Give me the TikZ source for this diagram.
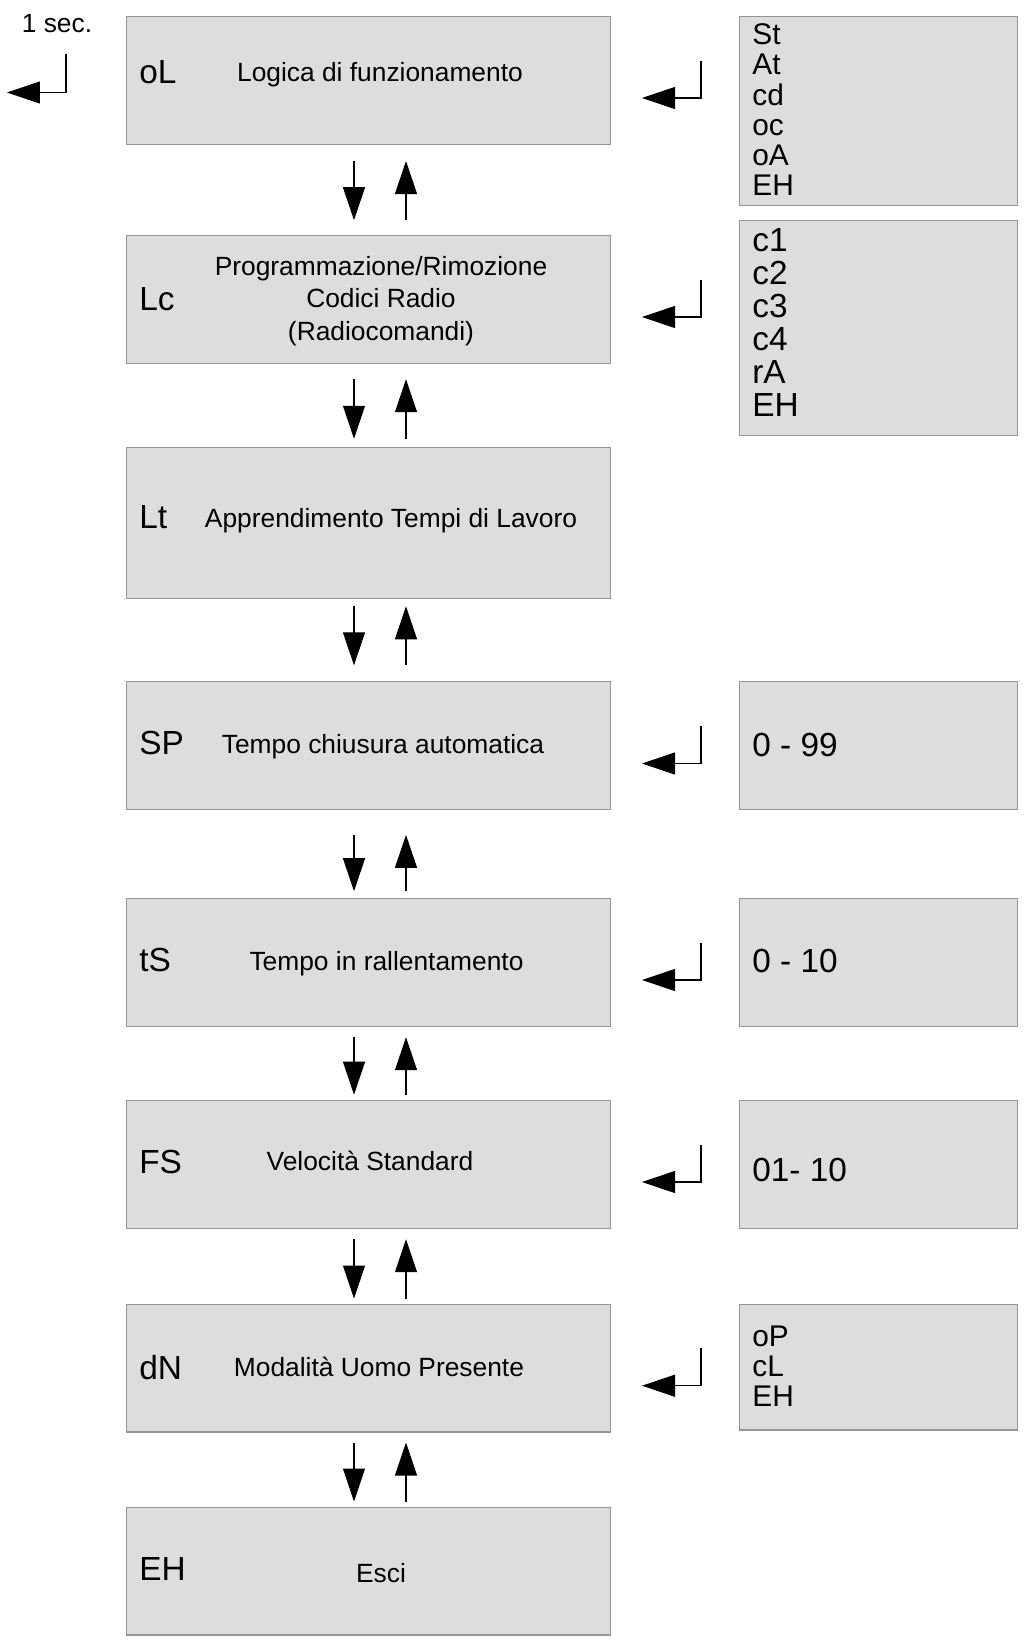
\documentclass[tikz,border=0pt]{standalone}
\usepackage{fontspec}
\setmainfont{Liberation Sans}
\usepackage{tikz}
\usetikzlibrary{arrows.meta,calc}

\definecolor{panelgray}{RGB}{221,221,221}
\definecolor{rimgray}{RGB}{150,150,150}

\begin{document}
\begin{tikzpicture}[x=0.02cm, y=-0.02cm,
    menu/.style={draw=rimgray, fill=panelgray, line width=0.6pt, inner sep=0pt,
                 minimum width=9.68cm, minimum height=2.56cm},
    vals/.style={draw=rimgray, fill=panelgray, line width=0.6pt, inner sep=0pt,
                 minimum width=5.57cm, minimum height=2.56cm},
    code/.style={anchor=base west, inner sep=0pt, font=\fontsize{19}{17}\selectfont},
    codelist/.style={anchor=north west, inner sep=0pt, align=left, font=\fontsize{17}{17.2}\selectfont},
    txt/.style={anchor=base, inner sep=0pt, font=\fontsize{15}{18.5}\selectfont, align=center},
    nav/.style={line width=0.7pt, -{Triangle[length=0.66cm, width=0.44cm]}},
    enter/.style={line width=0.6pt, -{Triangle[length=0.66cm, width=0.44cm]}}]

    \useasboundingbox (0,0) rectangle (1025,1640);

    % menu entries
    \node[menu] (ol) at (368.7,80.5) {};
    \node[menu] (lc) at (368.7,299.7) {};
    \node[menu, minimum height=3.01cm] (lt) at (368.7,523) {};
    \node[menu] (sp) at (368.7,745.8) {};
    \node[menu] (ts) at (368.7,962.2) {};
    \node[menu] (fs) at (368.7,1164.7) {};
    \node[menu] (dn) at (368.7,1368) {};
    \node[menu] (eh) at (368.7,1571) {};

    % value panels
    \node[vals, minimum height=3.77cm] (olv) at (878.6,110.9) {};
    \node[vals, minimum height=4.30cm] (lcv) at (878.6,328.1) {};
    \node[vals] (spv) at (878.6,745.8) {};
    \node[vals] (tsv) at (878.6,962.2) {};
    \node[vals, minimum height=2.57cm] (fsv) at (878.6,1164.7) {};
    \node[vals, minimum height=2.52cm] (dnv) at (878.6,1367) {};

    \node[code] (olc) at (139,83) {oL};
    \node[txt] (olt) at (380,81) {Logica di funzionamento};
    \node[code] (lcc) at (139,310) {Lc};
    \node[txt, anchor=north] (lct) at (381,256) {Programmazione/Rimozione\\Codici Radio\\(Radiocomandi)};
    \node[code] (ltc) at (139,528) {Lt};
    \node[txt] (ltt) at (391,527) {Apprendimento Tempi di Lavoro};
    \node[code] (spc) at (139,754) {SP};
    \node[txt] (spt) at (383,753) {Tempo chiusura automatica};
    \node[code] (tsc) at (139,971) {tS};
    \node[txt] (tst) at (386.5,970.5) {Tempo in rallentamento};
    \node[code] (fsc) at (139,1173) {FS};
    \node[txt] (fst) at (370,1170.5) {Velocità Standard};
    \node[code] (dnc) at (139,1379) {dN};
    \node[txt] (dnt) at (379,1376.5) {Modalità Uomo Presente};
    \node[code] (ehc) at (139,1580) {EH};
    \node[txt] (eht) at (381,1582) {Esci};

    \node[codelist] (oll) at (752,23.5) {St\\At\\cd\\oc\\oA\\EH};
    \node[codelist, font=\fontsize{19}{18.8}\selectfont] (lcl) at (752,228) {c1\\c2\\c3\\c4\\rA\\EH};
    \node[code] (spl) at (752,756) {0 - 99};
    \node[code] (tsl) at (752,972) {0 - 10};
    \node[code] (fsl) at (752,1181) {01- 10};
    \node[codelist] (dnl) at (752,1325.5) {oP\\cL\\EH};

    \node[txt] (sec) at (57,32) {1 sec.};

    % up / down between entries
    \coordinate (dx) at (354,0);
    \coordinate (ux) at (406,0);
    \draw[nav, shorten <=0.32cm, shorten >=0.30cm] (ol.south -| dx) -- (lc.north -| dx);
    \draw[nav, shorten <=0.30cm, shorten >=0.32cm] (lc.north -| ux) -- (ol.south -| ux);
    \draw[nav, shorten <=0.30cm, shorten >=0.17cm] (lc.south -| dx) -- (lt.north -| dx);
    \draw[nav, shorten <=0.17cm, shorten >=0.30cm] (lt.north -| ux) -- (lc.south -| ux);
    \draw[nav, shorten <=0.15cm, shorten >=0.32cm] (lt.south -| dx) -- (sp.north -| dx);
    \draw[nav, shorten <=0.32cm, shorten >=0.15cm] (sp.north -| ux) -- (lt.south -| ux);
    \draw[nav, shorten <=0.49cm, shorten >=0.13cm] (sp.south -| dx) -- (ts.north -| dx);
    \draw[nav, shorten <=0.13cm, shorten >=0.49cm] (ts.north -| ux) -- (sp.south -| ux);
    \draw[nav, shorten <=0.21cm, shorten >=0.11cm] (ts.south -| dx) -- (fs.north -| dx);
    \draw[nav, shorten <=0.11cm, shorten >=0.21cm] (fs.north -| ux) -- (ts.south -| ux);
    \draw[nav, shorten <=0.20cm, shorten >=0.10cm] (fs.south -| dx) -- (dn.north -| dx);
    \draw[nav, shorten <=0.10cm, shorten >=0.20cm] (dn.north -| ux) -- (fs.south -| ux);
    \draw[nav, shorten <=0.20cm, shorten >=0.10cm] (dn.south -| dx) -- (eh.north -| dx);
    \draw[nav, shorten <=0.10cm, shorten >=0.20cm] (eh.north -| ux) -- (dn.south -| ux);

    % enter keys
    \coordinate (secin) at (66,54);     \coordinate (secout) at (7,92.5);
    \coordinate (olin) at (701,61);     \coordinate (olout) at (642,98);
    \coordinate (lcin) at (701,280);    \coordinate (lcout) at (642,317);
    \coordinate (spin) at (701,726);    \coordinate (spout) at (642,763.5);
    \coordinate (tsin) at (701,943);    \coordinate (tsout) at (642,980);
    \coordinate (fsin) at (701,1145);   \coordinate (fsout) at (642,1182);
    \coordinate (dnin) at (701,1348);   \coordinate (dnout) at (642,1385.7);

    \draw[enter] (secin) |- (secout);
    \draw[enter] (olin) |- (olout);
    \draw[enter] (lcin) |- (lcout);
    \draw[enter] (spin) |- (spout);
    \draw[enter] (tsin) |- (tsout);
    \draw[enter] (fsin) |- (fsout);
    \draw[enter] (dnin) |- (dnout);

\end{tikzpicture}
\end{document}
